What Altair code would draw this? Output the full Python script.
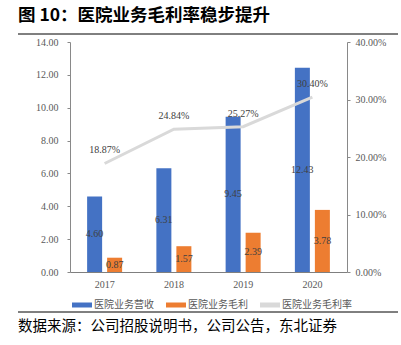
import altair as alt
import pandas as pd

years = ["2017", "2018", "2019", "2020"]
revenue = [4.60, 6.31, 9.45, 12.43]
gross_profit = [0.87, 1.57, 2.39, 3.78]
margin = [0.1887, 0.2484, 0.2527, 0.3040]
series = ["医院业务营收", "医院业务毛利", "医院业务毛利率"]
colors = ["#4472C4", "#ED7D31", "#D9D9D9"]
left_ticks = [0, 2, 4, 6, 8, 10, 12, 14]
right_ticks = [0, 0.1, 0.2, 0.3, 0.4]
title_text = "图  10：医院业务毛利率稳步提升"
source_text = "数据来源：公司招股说明书，公司公告，东北证券"

bars_df = pd.DataFrame({
    "year": years * 2,
    "series": [series[0]] * 4 + [series[1]] * 4,
    "value": revenue + gross_profit,
})
line_df = pd.DataFrame({"year": years, "rate": margin})
deco_df = pd.DataFrame({"title": [title_text], "source": [source_text]})

NUM_FONT = "Liberation Serif"
CJK_FONT = "Noto Sans CJK SC"
LABEL_COLOR = "#595959"

x_enc = alt.X(
    "year:N", sort=years,
    scale=alt.Scale(paddingInner=0, paddingOuter=0),
    axis=alt.Axis(title=None, labelAngle=0, labelFont=NUM_FONT, labelFontSize=10,
                  labelColor=LABEL_COLOR, tickSize=0, labelPadding=7,
                  domainColor="#7F7F7F", domainWidth=1, grid=False),
)
xoff = alt.XOffset(
    "series:N", sort=series[:2],
    scale=alt.Scale(domain=series[:2], paddingInner=0.25, paddingOuter=0.856),
)
left_scale = alt.Scale(domain=[0, 14], nice=False)
left_axis = alt.Axis(title=None, values=left_ticks, format=".2f", grid=False,
                     labelFont=NUM_FONT, labelFontSize=10, labelColor=LABEL_COLOR,
                     tickSize=3, tickColor="#898989", domainColor="#898989",
                     labelPadding=9, orient="left")
right_scale = alt.Scale(domain=[0, 0.4], nice=False)
right_axis = alt.Axis(title=None, values=right_ticks, format=".2%", grid=False,
                      labelFont=NUM_FONT, labelFontSize=10, labelColor=LABEL_COLOR,
                      tickSize=3, tickColor="#898989", domainColor="#898989",
                      labelPadding=5, orient="right")

color = alt.Color(
    "series:N",
    scale=alt.Scale(domain=series, range=colors),
    legend=alt.Legend(title=None, orient="none", legendX=2, legendY=253,
                      direction="horizontal", symbolType="M-1,-0.25H1V0.25H-1Z",
                      symbolSize=400, symbolStrokeWidth=0, labelFont=CJK_FONT,
                      labelFontSize=10, labelColor=LABEL_COLOR, labelOffset=2,
                      columnPadding=12),
)

bars = alt.Chart(bars_df).mark_bar().encode(
    x=x_enc, xOffset=xoff,
    y=alt.Y("value:Q", scale=left_scale, axis=left_axis),
    color=color,
)
bar_text = alt.Chart(bars_df).transform_calculate(mid="datum.value / 2").mark_text(
    font=NUM_FONT, fontSize=10, color="#404040", baseline="middle"
).encode(
    x=x_enc, xOffset=xoff,
    y=alt.Y("mid:Q", scale=left_scale, axis=left_axis),
    text=alt.Text("value:Q", format=".2f"),
)
left_layer = alt.layer(bars, bar_text)

line = alt.Chart(line_df).mark_line(color="#D9D9D9", strokeWidth=3).encode(
    x=x_enc,
    y=alt.Y("rate:Q", scale=right_scale, axis=right_axis),
)
line_text = alt.Chart(line_df).mark_text(
    font=NUM_FONT, fontSize=10, color="#404040", baseline="middle", dy=-13
).encode(
    x=x_enc,
    y=alt.Y("rate:Q", scale=right_scale, axis=right_axis),
    text=alt.Text("rate:Q", format=".2%"),
)
right_layer = alt.layer(line, line_text)

title = alt.Chart(deco_df).mark_text(
    font=CJK_FONT, fontSize=17.5, fontWeight="bold", color="#000000",
    align="left", baseline="middle"
).encode(x=alt.value(-52), y=alt.value(-26), text="title:N")
title_rule = alt.Chart(deco_df).mark_rule(color="#000000", strokeWidth=1).encode(
    x=alt.value(-52), x2=alt.value(328), y=alt.value(-8)
)
bottom_rule = alt.Chart(deco_df).mark_rule(color="#000000", strokeWidth=1).encode(
    x=alt.value(-52), x2=alt.value(328), y=alt.value(270)
)
source = alt.Chart(deco_df).mark_text(
    font=CJK_FONT, fontSize=14.5, color="#000000", align="left", baseline="middle"
).encode(x=alt.value(-52), y=alt.value(285), text="source:N")

chart = alt.layer(
    left_layer, right_layer, title, title_rule, bottom_rule, source
).resolve_scale(y="independent").properties(
    width=277, height=230,
    padding={"left": 70, "top": 42, "right": 54, "bottom": 73},
    autosize=alt.AutoSizeParams(type="none"),
).configure_view(stroke=None)

chart.save("out.html", embed_options={"renderer": "svg", "actions": False})
